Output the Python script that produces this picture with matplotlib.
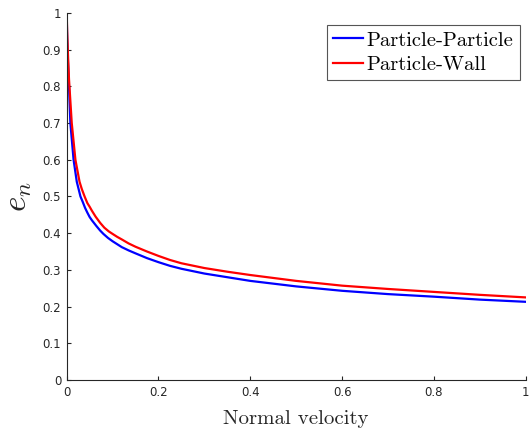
import matplotlib
matplotlib.use('Agg')
import matplotlib.pyplot as plt

# values
v_pp = [0.0, 0.001, 0.003, 0.005, 0.008, 0.015, 0.022, 0.030, 0.035, 0.040, 0.045, 0.050,
        0.055, 0.060, 0.065, 0.073, 0.080, 0.090, 0.100, 0.110, 0.120, 0.135, 0.150, 0.175,
        0.200, 0.225, 0.250, 0.300, 0.350, 0.400, 0.500, 0.600, 0.700, 0.800, 0.900, 1.000]
e_pp = [1.0, 0.93, 0.86, 0.80, 0.70, 0.60, 0.54, 0.50, 0.485, 0.469, 0.456, 0.444,
        0.435, 0.427, 0.419, 0.407, 0.398, 0.387, 0.378, 0.370, 0.362, 0.353, 0.345, 0.332,
        0.321, 0.311, 0.303, 0.290, 0.280, 0.270, 0.255, 0.243, 0.234, 0.227, 0.219, 0.213]

v_pw = [0.0, 0.001, 0.003, 0.005, 0.011, 0.019, 0.028, 0.033, 0.039, 0.045, 0.050, 0.055,
        0.063, 0.073, 0.082, 0.0915, 0.100, 0.110, 0.120, 0.135, 0.150, 0.175, 0.200, 0.225,
        0.250, 0.300, 0.350, 0.400, 0.500, 0.600, 0.700, 0.800, 0.900, 1.000]
e_pw = [1.0, 0.95, 0.88, 0.82, 0.70, 0.60, 0.54, 0.52, 0.50, 0.482, 0.472, 0.461,
        0.445, 0.428, 0.415, 0.405, 0.398, 0.390, 0.383, 0.372, 0.363, 0.350, 0.338, 0.327,
        0.318, 0.305, 0.295, 0.286, 0.270, 0.257, 0.248, 0.240, 0.232, 0.225]

xticks = [0, 0.2, 0.4, 0.6, 0.8, 1]
xticklabels = ['0', '0.2', '0.4', '0.6', '0.8', '1']
yticks = [0, 0.1, 0.2, 0.3, 0.4, 0.5, 0.6, 0.7, 0.8, 0.9, 1]
yticklabels = ['0', '0.1', '0.2', '0.3', '0.4', '0.5', '0.6', '0.7', '0.8', '0.9', '1']

plt.rcParams['mathtext.fontset'] = 'cm'
axcol = '#262626'

fig = plt.figure(figsize=(5.31, 4.32), dpi=100)
ax = fig.add_axes([0.1256, 0.1204, 0.8644, 0.8496])

ax.plot(v_pp, e_pp, color='#0000ff', lw=1.6, label='Particle-Particle')
ax.plot(v_pw, e_pw, color='#ff0000', lw=1.6, label='Particle-Wall')

ax.set_xlim(0, 1)
ax.set_ylim(0, 1)
ax.set_xticks(xticks)
ax.set_xticklabels(xticklabels)
ax.set_yticks(yticks)
ax.set_yticklabels(yticklabels)
ax.tick_params(direction='in', length=3, width=0.8, colors=axcol, labelsize=8.5, pad=4)

for side in ['top', 'right']:
    ax.spines[side].set_visible(False)
for side in ['left', 'bottom']:
    ax.spines[side].set_color(axcol)
    ax.spines[side].set_linewidth(0.8)

ax.set_xlabel('Normal velocity', fontfamily='cmr10', fontsize=15, color=axcol, labelpad=8)
ax.set_ylabel(r'$e_n$', fontsize=24, color=axcol, labelpad=6)

leg = ax.legend(loc='upper right', bbox_to_anchor=(0.987, 0.967), prop={'family': 'cmr10', 'size': 14.8},
                handlelength=1.45, handletextpad=0.2, borderpad=0.3, labelspacing=0.3,
                borderaxespad=0, fancybox=False, framealpha=1)
leg.get_frame().set_edgecolor('#555555')
leg.get_frame().set_linewidth(0.8)

fig.savefig('out.png', dpi=100)
